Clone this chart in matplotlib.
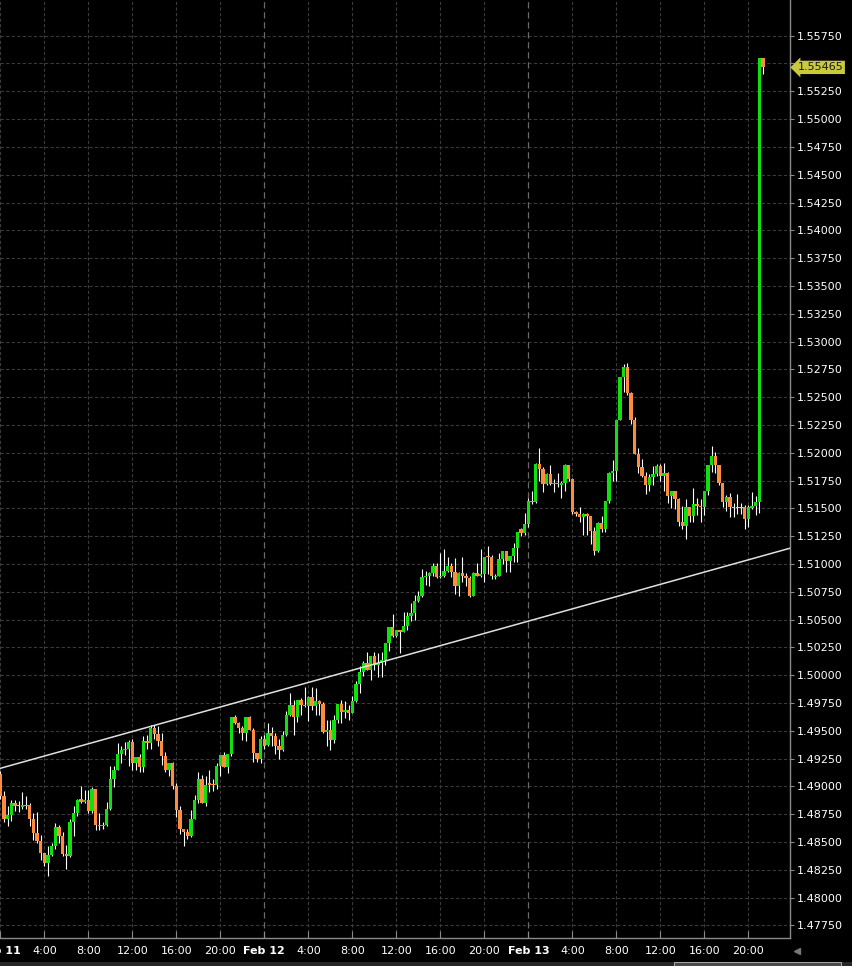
import numpy as np
import matplotlib.pyplot as plt
from matplotlib.patches import Rectangle
from matplotlib.lines import Line2D
import matplotlib.transforms as mtransforms

# 20-minute candles starting Feb 11 0:00 (hours from start)
bar_hours = np.arange(209) / 3.0

opens = [
    1.4911, 1.4891, 1.4871, 1.4874, 1.4885, 1.4882, 1.4881, 1.4883, 1.4883, 1.4871,
    1.4858, 1.4851, 1.4840, 1.4831, 1.4838, 1.4846, 1.4863, 1.4855, 1.4839, 1.4837,
    1.4868, 1.4876, 1.4889, 1.4886, 1.4888, 1.4878, 1.4898, 1.4865, 1.4864, 1.4865,
    1.4880, 1.4907, 1.4915, 1.4929, 1.4933, 1.4934, 1.4940, 1.4921, 1.4926, 1.4917,
    1.4941, 1.4939, 1.4952, 1.4947, 1.4941, 1.4927, 1.4915, 1.4921, 1.4900, 1.4879,
    1.4862, 1.4859, 1.4855, 1.4871, 1.4888, 1.4907, 1.4885, 1.4903, 1.4902, 1.4901,
    1.4918, 1.4928, 1.4917, 1.4929, 1.4962, 1.4957, 1.4952, 1.4948, 1.4962, 1.4951,
    1.4930, 1.4925, 1.4943, 1.4937, 1.4948, 1.4945, 1.4936, 1.4933, 1.4946, 1.4964,
    1.4973, 1.4962, 1.4978, 1.4973, 1.4972, 1.4980, 1.4972, 1.4977, 1.4974, 1.4949,
    1.4951, 1.4942, 1.4960, 1.4974, 1.4967, 1.4969, 1.4966, 1.4977, 1.4992, 1.5003,
    1.5011, 1.5005, 1.5017, 1.5009, 1.5011, 1.5014, 1.5029, 1.5043, 1.5035, 1.5041,
    1.5039, 1.5044, 1.5053, 1.5056, 1.5067, 1.5071, 1.5088, 1.5089, 1.5092, 1.5098,
    1.5088, 1.5089, 1.5094, 1.5098, 1.5093, 1.5080, 1.5092, 1.5089, 1.5087, 1.5071,
    1.5092, 1.5089, 1.5091, 1.5107, 1.5106, 1.5088, 1.5089, 1.5104, 1.5112, 1.5103,
    1.5107, 1.5114, 1.5131, 1.5128, 1.5136, 1.5157, 1.5156, 1.5190, 1.5185, 1.5172,
    1.5181, 1.5172, 1.5173, 1.5171, 1.5173, 1.5189, 1.5176, 1.5147, 1.5145, 1.5142,
    1.5145, 1.5143, 1.5130, 1.5112, 1.5137, 1.5131, 1.5157, 1.5182, 1.5184, 1.5229,
    1.5268, 1.5277, 1.5254, 1.5229, 1.5199, 1.5187, 1.5179, 1.5171, 1.5178, 1.5181,
    1.5188, 1.5179, 1.5182, 1.5161, 1.5166, 1.5158, 1.5138, 1.5134, 1.5151, 1.5143,
    1.5154, 1.5152, 1.5151, 1.5166, 1.5189, 1.5197, 1.5189, 1.5173, 1.5156, 1.5160,
    1.5150, 1.5150, 1.5150, 1.5151, 1.5140, 1.5150, 1.5152, 1.5156, 1.5555,
]

highs = [
    1.4914, 1.4896, 1.4882, 1.4888, 1.4888, 1.4887, 1.4895, 1.4891, 1.4885, 1.4876,
    1.4877, 1.4856, 1.4840, 1.4846, 1.4849, 1.4867, 1.4865, 1.4859, 1.4847, 1.4871,
    1.4882, 1.4889, 1.4900, 1.4897, 1.4897, 1.4899, 1.4898, 1.4876, 1.4868, 1.4886,
    1.4918, 1.4918, 1.4939, 1.4936, 1.4940, 1.4942, 1.4943, 1.4926, 1.4929, 1.4945,
    1.4946, 1.4955, 1.4955, 1.4954, 1.4948, 1.4931, 1.4921, 1.4922, 1.4903, 1.4882,
    1.4862, 1.4862, 1.4879, 1.4892, 1.4913, 1.4910, 1.4909, 1.4915, 1.4907, 1.4921,
    1.4928, 1.4931, 1.4929, 1.4962, 1.4964, 1.4958, 1.4954, 1.4962, 1.4963, 1.4952,
    1.4930, 1.4945, 1.4946, 1.4957, 1.4953, 1.4948, 1.4943, 1.4950, 1.4968, 1.4984,
    1.4978, 1.4978, 1.4979, 1.4989, 1.4981, 1.4989, 1.4988, 1.4978, 1.4976, 1.4960,
    1.4960, 1.4964, 1.4974, 1.4978, 1.4977, 1.4973, 1.4981, 1.4995, 1.5008, 1.5013,
    1.5021, 1.5017, 1.5021, 1.5020, 1.5021, 1.5029, 1.5043, 1.5055, 1.5041, 1.5041,
    1.5057, 1.5057, 1.5065, 1.5072, 1.5076, 1.5095, 1.5094, 1.5093, 1.5101, 1.5101,
    1.5110, 1.5113, 1.5106, 1.5101, 1.5105, 1.5093, 1.5106, 1.5092, 1.5089, 1.5093,
    1.5101, 1.5113, 1.5106, 1.5116, 1.5108, 1.5091, 1.5110, 1.5112, 1.5112, 1.5105,
    1.5119, 1.5129, 1.5132, 1.5146, 1.5159, 1.5166, 1.5191, 1.5204, 1.5187, 1.5182,
    1.5189, 1.5176, 1.5182, 1.5175, 1.5190, 1.5189, 1.5177, 1.5148, 1.5151, 1.5146,
    1.5146, 1.5143, 1.5133, 1.5138, 1.5143, 1.5157, 1.5183, 1.5193, 1.5229, 1.5268,
    1.5280, 1.5281, 1.5255, 1.5232, 1.5204, 1.5194, 1.5183, 1.5181, 1.5188, 1.5190,
    1.5190, 1.5191, 1.5183, 1.5166, 1.5166, 1.5159, 1.5152, 1.5158, 1.5151, 1.5168,
    1.5159, 1.5158, 1.5166, 1.5189, 1.5206, 1.5201, 1.5189, 1.5173, 1.5162, 1.5164,
    1.5155, 1.5163, 1.5155, 1.5153, 1.5153, 1.5165, 1.5161, 1.5555, 1.5555,
]

lows = [
    1.4889, 1.4868, 1.4864, 1.4869, 1.4878, 1.4877, 1.4880, 1.4880, 1.4864, 1.4852,
    1.4849, 1.4834, 1.4828, 1.4819, 1.4837, 1.4844, 1.4849, 1.4837, 1.4826, 1.4836,
    1.4855, 1.4873, 1.4885, 1.4885, 1.4876, 1.4876, 1.4861, 1.4861, 1.4862, 1.4864,
    1.4879, 1.4899, 1.4915, 1.4921, 1.4928, 1.4918, 1.4915, 1.4915, 1.4913, 1.4913,
    1.4934, 1.4934, 1.4943, 1.4936, 1.4919, 1.4913, 1.4909, 1.4898, 1.4872, 1.4857,
    1.4846, 1.4853, 1.4854, 1.4871, 1.4885, 1.4885, 1.4882, 1.4895, 1.4896, 1.4898,
    1.4909, 1.4917, 1.4912, 1.4927, 1.4956, 1.4948, 1.4942, 1.4941, 1.4951, 1.4922,
    1.4922, 1.4921, 1.4934, 1.4936, 1.4936, 1.4929, 1.4925, 1.4932, 1.4945, 1.4963,
    1.4946, 1.4958, 1.4964, 1.4971, 1.4959, 1.4969, 1.4964, 1.4964, 1.4948, 1.4936,
    1.4933, 1.4939, 1.4957, 1.4957, 1.4961, 1.4960, 1.4966, 1.4976, 1.4984, 1.4999,
    1.5005, 1.4996, 1.5005, 1.4998, 1.4998, 1.5009, 1.5022, 1.5034, 1.5034, 1.5020,
    1.5039, 1.5041, 1.5049, 1.5050, 1.5066, 1.5070, 1.5081, 1.5080, 1.5089, 1.5087,
    1.5087, 1.5088, 1.5093, 1.5088, 1.5073, 1.5071, 1.5084, 1.5080, 1.5070, 1.5071,
    1.5089, 1.5088, 1.5084, 1.5091, 1.5086, 1.5086, 1.5089, 1.5100, 1.5093, 1.5093,
    1.5102, 1.5102, 1.5125, 1.5126, 1.5133, 1.5154, 1.5155, 1.5175, 1.5165, 1.5171,
    1.5171, 1.5165, 1.5169, 1.5159, 1.5166, 1.5175, 1.5145, 1.5143, 1.5138, 1.5126,
    1.5126, 1.5118, 1.5108, 1.5111, 1.5129, 1.5129, 1.5155, 1.5175, 1.5175, 1.5229,
    1.5255, 1.5252, 1.5226, 1.5199, 1.5182, 1.5178, 1.5163, 1.5166, 1.5171, 1.5179,
    1.5175, 1.5166, 1.5155, 1.5150, 1.5149, 1.5134, 1.5131, 1.5122, 1.5138, 1.5138,
    1.5144, 1.5138, 1.5144, 1.5162, 1.5183, 1.5182, 1.5171, 1.5151, 1.5148, 1.5142,
    1.5142, 1.5145, 1.5145, 1.5131, 1.5133, 1.5149, 1.5144, 1.5146, 1.5541,
]

closes = [
    1.4891, 1.4871, 1.4874, 1.4885, 1.4882, 1.4882, 1.4883, 1.4882, 1.4871, 1.4858,
    1.4851, 1.4840, 1.4831, 1.4838, 1.4846, 1.4863, 1.4855, 1.4839, 1.4837, 1.4868,
    1.4876, 1.4888, 1.4886, 1.4888, 1.4878, 1.4898, 1.4865, 1.4864, 1.4865, 1.4880,
    1.4907, 1.4915, 1.4929, 1.4933, 1.4934, 1.4940, 1.4921, 1.4926, 1.4917, 1.4941,
    1.4939, 1.4952, 1.4947, 1.4941, 1.4927, 1.4915, 1.4921, 1.4900, 1.4879, 1.4862,
    1.4859, 1.4855, 1.4871, 1.4888, 1.4907, 1.4885, 1.4901, 1.4901, 1.4901, 1.4918,
    1.4928, 1.4917, 1.4929, 1.4962, 1.4957, 1.4952, 1.4948, 1.4962, 1.4951, 1.4930,
    1.4925, 1.4943, 1.4936, 1.4948, 1.4945, 1.4936, 1.4933, 1.4946, 1.4964, 1.4973,
    1.4962, 1.4978, 1.4973, 1.4972, 1.4980, 1.4972, 1.4977, 1.4974, 1.4949, 1.4951,
    1.4942, 1.4960, 1.4974, 1.4967, 1.4969, 1.4966, 1.4977, 1.4992, 1.5003, 1.5011,
    1.5005, 1.5017, 1.5009, 1.5011, 1.5014, 1.5029, 1.5043, 1.5035, 1.5041, 1.5039,
    1.5044, 1.5053, 1.5056, 1.5067, 1.5071, 1.5088, 1.5089, 1.5092, 1.5098, 1.5088,
    1.5089, 1.5094, 1.5098, 1.5093, 1.5080, 1.5092, 1.5089, 1.5087, 1.5071, 1.5092,
    1.5089, 1.5091, 1.5106, 1.5106, 1.5089, 1.5089, 1.5104, 1.5112, 1.5103, 1.5107,
    1.5114, 1.5129, 1.5128, 1.5136, 1.5157, 1.5156, 1.5190, 1.5185, 1.5172, 1.5181,
    1.5172, 1.5173, 1.5172, 1.5173, 1.5189, 1.5176, 1.5147, 1.5145, 1.5142, 1.5145,
    1.5143, 1.5130, 1.5112, 1.5137, 1.5131, 1.5157, 1.5182, 1.5184, 1.5229, 1.5268,
    1.5277, 1.5254, 1.5229, 1.5199, 1.5187, 1.5179, 1.5171, 1.5178, 1.5181, 1.5188,
    1.5179, 1.5182, 1.5161, 1.5166, 1.5158, 1.5138, 1.5134, 1.5151, 1.5143, 1.5154,
    1.5152, 1.5151, 1.5166, 1.5189, 1.5197, 1.5189, 1.5173, 1.5156, 1.5160, 1.5151,
    1.5150, 1.5150, 1.5150, 1.5140, 1.5151, 1.5152, 1.5156, 1.5555, 1.55465,
]

last_price = 1.55465

# hand drawn trend line (hours, price)
trend_hours = [0, 72]
trend_prices = [1.49162, 1.51147]

tick_hours = list(range(0, 72, 4))
tick_labels = ['Feb 11', '4:00', '8:00', '12:00', '16:00', '20:00',
               'Feb 12', '4:00', '8:00', '12:00', '16:00', '20:00',
               'Feb 13', '4:00', '8:00', '12:00', '16:00', '20:00']
day_hours = [24, 48]

price_ticks = np.arange(1.4775, 1.55751, 0.0025)

UP = '#10e010'
DOWN = '#ff8c3c'
DOJI = '#e6e61e'

o = np.array(opens)
h = np.array(highs)
l = np.array(lows)
c = np.array(closes)
colors = [UP if cc > oo else DOWN if cc < oo else DOJI for oo, cc in zip(o, c)]

fig = plt.figure(figsize=(8.52, 9.66), dpi=100, facecolor='black')
ax = fig.add_axes([0, 28 / 966, 790 / 852, 938 / 966])
ax.set_facecolor('black')

# grid
for yv in price_ticks:
    ax.axhline(yv, color='#3a3a3a', lw=0.8, ls=(0, (3, 2)), zorder=0)
for xv in tick_hours:
    if xv in day_hours:
        ax.axvline(xv, color='#6a6a6a', lw=0.9, ls=(0, (5, 3)), zorder=0)
    else:
        ax.axvline(xv, color='#3a3a3a', lw=0.8, ls=(0, (3, 2)), zorder=0)

# candles
ax.vlines(bar_hours, l, h, color='white', lw=0.8, zorder=2)
body_lo = np.minimum(o, c)
body_h = np.maximum(np.abs(c - o), 0.00009)
ax.bar(bar_hours, body_h, bottom=body_lo, width=0.28, color=colors,
       linewidth=0, zorder=3)

ax.plot(trend_hours, trend_prices, color='#e0e0e0', lw=1.1, zorder=4)

ax.set_xlim(-0.03, 71.79)
ax.set_ylim(1.47636, 1.56071)

ax.yaxis.tick_right()
ax.set_yticks(price_ticks)
# the 1.55500 label sits under the last-price tag
ax.set_yticklabels(['' if abs(v - 1.555) < 1e-6 else '%.5f' % v for v in price_ticks])
ax.set_xticks(tick_hours)
ax.set_xticklabels(tick_labels)
for lab, txt in zip(ax.get_xticklabels(), tick_labels):
    if txt.startswith('Feb'):
        lab.set_fontweight('bold')

ax.tick_params(axis='y', colors='#8a8a8a', labelcolor='white', labelsize=8,
               length=3, pad=2, direction='out')
ax.tick_params(axis='x', colors='#8a8a8a', labelcolor='white', labelsize=8,
               length=5, pad=6, direction='in')

for side in ['top', 'left']:
    ax.spines[side].set_visible(False)
for side in ['right', 'bottom']:
    ax.spines[side].set_color('#8a8a8a')
    ax.spines[side].set_linewidth(1.0)

# last price tag
trans = mtransforms.blended_transform_factory(ax.transAxes, ax.transData)
ax.text(1.0095, last_price, '%.5f' % last_price, transform=trans, fontsize=8,
        color='#1a1a1a', ha='left', va='center', clip_on=False, zorder=6,
        bbox=dict(boxstyle='larrow,pad=0.15', fc='#c9c93e', ec='none'))

# bits of the panel below
fig.add_artist(Rectangle((0, 0), 1, 4 / 966, transform=fig.transFigure,
                         fc='#262626', ec='none'))
fig.add_artist(Rectangle((674 / 852, 0), 167 / 852, 4 / 966, transform=fig.transFigure,
                         fc='#4a4a4a', ec='#bbbbbb', lw=0.6))
fig.add_artist(Line2D([797 / 852], [15 / 966], transform=fig.transFigure,
                      marker='<', ms=4, color='#777777', lw=0))

fig.savefig('out.png', dpi=100, facecolor='black')
